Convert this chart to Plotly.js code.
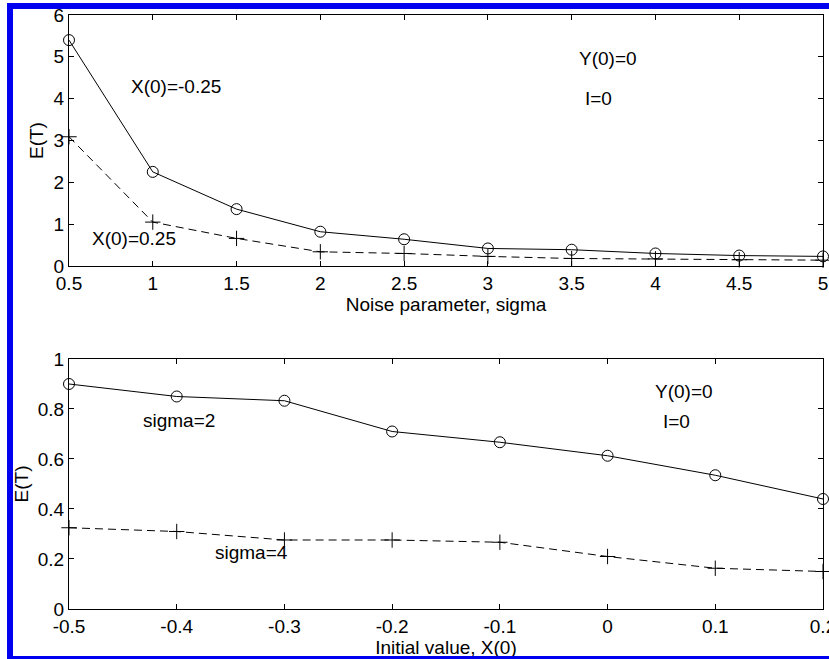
<!DOCTYPE html>
<html>
<head>
<meta charset="utf-8">
<script src="https://cdn.plot.ly/plotly-3.0.1.min.js"></script>
<style>
  html, body { margin: 0; padding: 0; background: #ffffff; overflow: hidden; }
  #chart { position: absolute; left: 0; top: 0; width: 829px; height: 659px; }
  #frame { position: absolute; left: 7px; top: 3px; width: 900px; height: 647px;
           border-left: 6px solid #0000f0; border-top: 6px solid #0000f0; border-bottom: 6px solid #0000f0;
           pointer-events: none; }
</style>
</head>
<body>
<div id="chart"></div>
<div id="frame"></div>
<script>
// ---- Top panel: E(T) vs noise parameter sigma ----
const sigmaValues = [0.5, 1, 1.5, 2, 2.5, 3, 3.5, 4, 4.5, 5];
const etNegX0 = [5.40, 2.25, 1.36, 0.82, 0.64, 0.42, 0.39, 0.30, 0.25, 0.23];   // X(0) = -0.25
const etPosX0 = [3.09, 1.05, 0.66, 0.34, 0.30, 0.23, 0.18, 0.17, 0.15, 0.14];   // X(0) = 0.25

// ---- Bottom panel: E(T) vs initial value X(0) ----
const x0Values = [-0.5, -0.4, -0.3, -0.2, -0.1, 0, 0.1, 0.2];
const etSigma2 = [0.90, 0.85, 0.833, 0.71, 0.667, 0.613, 0.535, 0.44];
const etSigma4 = [0.325, 0.31, 0.276, 0.276, 0.267, 0.21, 0.163, 0.15];

// ---- Tick labels ----
const topXTickVals = [0.5, 1, 1.5, 2, 2.5, 3, 3.5, 4, 4.5, 5];
const topXTickText = ["0.5", "1", "1.5", "2", "2.5", "3", "3.5", "4", "4.5", "5"];
const topYTickVals = [0, 1, 2, 3, 4, 5, 6];
const topYTickText = ["0", "1", "2", "3", "4", "5", "6"];
const botXTickVals = [-0.5, -0.4, -0.3, -0.2, -0.1, 0, 0.1, 0.2];
const botXTickText = ["-0.5", "-0.4", "-0.3", "-0.2", "-0.1", "0", "0.1", "0.2"];
const botYTickVals = [0, 0.2, 0.4, 0.6, 0.8, 1];
const botYTickText = ["0", "0.2", "0.4", "0.6", "0.8", "1"];

const FONT = "Liberation Sans, Arial, Helvetica, sans-serif";
const FS = 19;
const DASH = "8px,5px";

const traces = [
  { x: sigmaValues, y: etNegX0, xaxis: "x", yaxis: "y", mode: "lines+markers", cliponaxis: false,
    line: { color: "#000", width: 1 },
    marker: { symbol: "circle-open", size: 11, color: "#000", line: { width: 1, color: "#000" } } },
  { x: sigmaValues, y: etPosX0, xaxis: "x", yaxis: "y", mode: "lines+markers", cliponaxis: false,
    line: { color: "#000", width: 1, dash: DASH },
    marker: { symbol: "cross-thin-open", size: 11, color: "#000", line: { width: 1, color: "#000" } } },
  { x: x0Values, y: etSigma2, xaxis: "x2", yaxis: "y2", mode: "lines+markers", cliponaxis: false,
    line: { color: "#000", width: 1 },
    marker: { symbol: "circle-open", size: 11, color: "#000", line: { width: 1, color: "#000" } } },
  { x: x0Values, y: etSigma4, xaxis: "x2", yaxis: "y2", mode: "lines+markers", cliponaxis: false,
    line: { color: "#000", width: 1, dash: DASH },
    marker: { symbol: "cross-thin-open", size: 11, color: "#000", line: { width: 1, color: "#000" } } }
];

const axisCommon = {
  showline: true, linecolor: "#000", linewidth: 1, mirror: "ticks",
  ticks: "inside", ticklen: 5, tickwidth: 1, tickcolor: "#000",
  showgrid: false, zeroline: false,
  tickfont: { family: FONT, size: FS, color: "#000" },
  ticklabeloverflow: "allow",
  fixedrange: true
};

function ann(xref, yref, x, y, text) {
  return { xref: xref, yref: yref, x: x, y: y, text: text, showarrow: false,
           font: { family: FONT, size: FS, color: "#000" }, xanchor: "center", yanchor: "middle" };
}

const layout = {
  width: 829, height: 659,
  margin: { l: 69, r: 6, t: 15, b: 50 },
  paper_bgcolor: "#fff", plot_bgcolor: "#fff",
  showlegend: false,
  xaxis: Object.assign({}, axisCommon, {
    domain: [0, 1], anchor: "y", range: [0.5, 5.000001],
    tickmode: "array", tickvals: topXTickVals, ticktext: topXTickText,
    title: { text: "Noise parameter, sigma", font: { family: FONT, size: FS, color: "#000" }, standoff: 2 }
  }),
  yaxis: Object.assign({}, axisCommon, {
    domain: [0.5774, 1], anchor: "x", range: [0, 6],
    tickmode: "array", tickvals: topYTickVals, ticktext: topYTickText,
    title: { text: "E(T)", font: { family: FONT, size: FS, color: "#000" }, standoff: 4 }
  }),
  xaxis2: Object.assign({}, axisCommon, {
    domain: [0, 1], anchor: "y2", range: [-0.5, 0.200001],
    tickmode: "array", tickvals: botXTickVals, ticktext: botXTickText,
    title: { text: "Initial value, X(0)", font: { family: FONT, size: FS, color: "#000" }, standoff: 2 }
  }),
  yaxis2: Object.assign({}, axisCommon, {
    domain: [0, 0.4209], anchor: "x2", range: [0, 1],
    tickmode: "array", tickvals: botYTickVals, ticktext: botYTickText,
    title: { text: "E(T)", font: { family: FONT, size: FS, color: "#000" }, standoff: 4 }
  }),
  annotations: [
    ann("x", "y", 1.14, 4.30, "X(0)=-0.25"),
    ann("x", "y", 0.89, 0.66, "X(0)=0.25"),
    ann("x", "y", 3.715, 4.95, "Y(0)=0"),
    ann("x", "y", 3.66, 4.01, "I=0"),
    ann("x2", "y2", -0.398, 0.753, "sigma=2"),
    ann("x2", "y2", -0.331, 0.224, "sigma=4"),
    ann("x2", "y2", 0.0706, 0.868, "Y(0)=0"),
    ann("x2", "y2", 0.0642, 0.748, "I=0")
  ]
};

Plotly.newPlot("chart", traces, layout, { displayModeBar: false, staticPlot: true });
</script>
</body>
</html>
